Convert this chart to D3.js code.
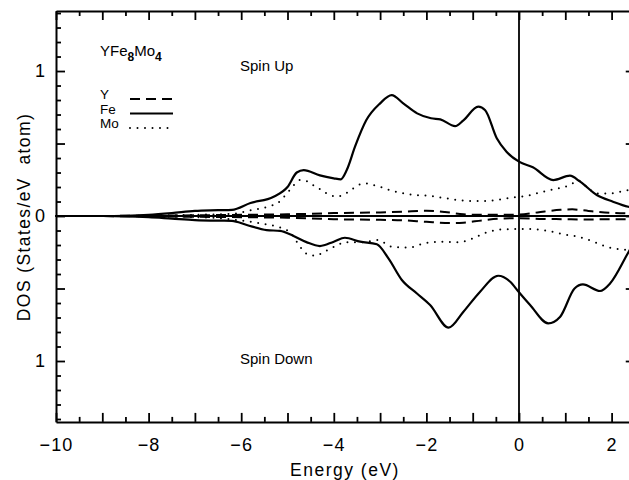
<!DOCTYPE html>
<html>
<head>
<meta charset="utf-8">
<script src="https://cdn.jsdelivr.net/npm/d3@7"></script>
<style>
  html, body { margin: 0; padding: 0; background: #fff; }
  svg text { font-family: "Liberation Sans", Arial, Helvetica, sans-serif; fill: #000; }
</style>
</head>
<body>
<div id="chart"></div>
<script>
// ---- data: [energy (eV), DOS]; spin down stored as negative
const feUp = [[-10,0],[-9,0],[-8.5,0.002],[-8,0.008],[-7.5,0.02],[-7,0.035],[-6.5,0.04],[-6.2,0.043],
  [-5.8,0.09],[-5.3,0.133],[-5.0,0.2],[-4.8,0.3],[-4.65,0.317],[-4.3,0.28],[-4.0,0.26],[-3.85,0.253],
  [-3.72,0.317],[-3.54,0.48],[-3.3,0.66],[-3.0,0.777],[-2.75,0.834],[-2.5,0.777],[-2.2,0.708],
  [-1.9,0.674],[-1.7,0.667],[-1.38,0.62],[-1.2,0.66],[-0.88,0.754],[-0.73,0.73],[-0.48,0.536],
  [-0.27,0.443],[0,0.375],[0.3,0.336],[0.74,0.248],[1.1,0.278],[1.32,0.237],[1.68,0.145],
  [2.03,0.099],[2.36,0.064],[2.5,0.055]];
const feDown = [[-10,0],[-9,0],[-8.5,-0.002],[-8,-0.008],[-7.5,-0.018],[-7,-0.028],[-6.5,-0.032],
  [-6.2,-0.033],[-5.88,-0.062],[-5.45,-0.097],[-5.16,-0.103],[-4.88,-0.136],[-4.59,-0.18],[-4.3,-0.207],
  [-4.0,-0.177],[-3.76,-0.15],[-3.43,-0.177],[-3.07,-0.195],[-2.82,-0.292],[-2.53,-0.441],[-2.21,-0.533],
  [-1.92,-0.614],[-1.52,-0.77],[-1.2,-0.66],[-0.84,-0.522],[-0.45,-0.412],[-0.19,-0.453],[0,-0.526],
  [0.24,-0.614],[0.63,-0.74],[0.89,-0.694],[1.2,-0.5],[1.38,-0.472],[1.75,-0.517],[1.97,-0.464],
  [2.33,-0.269],[2.5,-0.17]];
const moUp = [[-10,0],[-9,0],[-8,0.002],[-7,0.008],[-6.5,0.012],[-6.1,0.018],[-5.88,0.034],[-5.7,0.046],
  [-5.56,0.053],[-5.38,0.069],[-5.2,0.092],[-5.1,0.124],[-4.98,0.168],[-4.86,0.214],[-4.73,0.248],
  [-4.55,0.237],[-4.42,0.207],[-4.26,0.179],[-4.1,0.145],[-3.94,0.135],[-3.76,0.152],[-3.61,0.184],
  [-3.47,0.214],[-3.31,0.225],[-3.15,0.214],[-2.97,0.198],[-2.79,0.179],[-2.43,0.152],[-1.92,0.138],
  [-1.56,0.122],[-1.2,0.106],[-0.84,0.103],[-0.48,0.11],[-0.12,0.129],[0.2,0.14],[0.38,0.156],
  [0.74,0.184],[1.1,0.214],[1.28,0.245],[1.5,0.191],[1.68,0.156],[1.97,0.156],[2.36,0.179],[2.5,0.185]];
const moDown = [[-10,0],[-9,0],[-8,-0.002],[-7,-0.008],[-6.5,-0.014],[-6.1,-0.028],[-5.7,-0.044],
  [-5.38,-0.062],[-5.2,-0.074],[-4.91,-0.126],[-4.8,-0.177],[-4.7,-0.223],[-4.57,-0.264],[-4.39,-0.274],
  [-4.24,-0.253],[-4.07,-0.223],[-3.88,-0.195],[-3.79,-0.181],[-3.4,-0.181],[-3.04,-0.166],[-2.75,-0.212],
  [-2.39,-0.218],[-2.03,-0.188],[-1.67,-0.177],[-1.31,-0.181],[-0.99,-0.154],[-0.7,-0.113],[-0.34,-0.092],
  [-0.12,-0.09],[0.24,-0.09],[0.6,-0.101],[0.96,-0.126],[1.28,-0.143],[1.61,-0.177],[1.89,-0.212],
  [2.33,-0.234],[2.5,-0.24]];
const yUp = [[-10,0],[-8,0.002],[-7,0.005],[-6,0.008],[-5,0.012],[-4.5,0.015],[-4,0.02],[-3,0.025],
  [-2.5,0.03],[-2.0,0.036],[-1.6,0.028],[-1.2,0.012],[-0.8,0.008],[-0.4,0.008],[0,0.01],[0.4,0.025],
  [0.9,0.043],[1.15,0.046],[1.5,0.035],[2.0,0.022],[2.5,0.018]];
const yDown = [[-10,0],[-8,-0.002],[-7,-0.005],[-6,-0.008],[-5,-0.012],[-4.5,-0.016],[-4,-0.022],
  [-3,-0.026],[-2.5,-0.03],[-2,-0.04],[-1.5,-0.048],[-1.2,-0.046],[-0.8,-0.03],[-0.4,-0.018],[0,-0.015],
  [0.5,-0.02],[1,-0.022],[1.5,-0.024],[2,-0.022],[2.5,-0.022]];

const xLabelTicks = [-10, -8, -6, -4, -2, 0, 2];
const yLabelTicks = [-1, 0, 1];
const legendItems = ["Y", "Fe", "Mo"];

// ---- layout
const fullW = 629, fullH = 480;
const svg = d3.select("#chart").append("svg")
  .attr("width", fullW).attr("height", fullH);

const x = d3.scaleLinear().domain([-10, 2.5]).range([56, 634.75]);
const y = d3.scaleLinear().domain([-1.42, 1.414]).range([421.9, 11]);
const [x0, x1] = x.range();
const [yB, yT] = y.range();

const styles = {
  Y:  { dash: "10,6", cap: "butt", w: 2 },
  Fe: { dash: null, cap: "butt", w: 2.2 },
  Mo: { dash: "0,7.5", cap: "round", w: 2 }
};

// ---- curves
const line = d3.line()
  .x(d => x(d[0]))
  .y(d => y(d[1]))
  .curve(d3.curveMonotoneX);

const series = [
  { key: "Y", data: yUp }, { key: "Y", data: yDown },
  { key: "Mo", data: moUp }, { key: "Mo", data: moDown },
  { key: "Fe", data: feUp }, { key: "Fe", data: feDown }
];

const plot = svg.append("g");
series.forEach(s => {
  const st = styles[s.key];
  plot.append("path")
    .datum(s.data)
    .attr("d", line)
    .attr("fill", "none")
    .attr("stroke", "#000")
    .attr("stroke-width", st.w)
    .attr("stroke-linecap", st.cap)
    .attr("stroke-linejoin", "round")
    .attr("stroke-dasharray", st.dash);
});

// zero line and Fermi level
plot.append("line")
  .attr("x1", x0).attr("x2", x1).attr("y1", y(0)).attr("y2", y(0))
  .attr("stroke", "#000").attr("stroke-width", 2);
plot.append("line")
  .attr("x1", x(0)).attr("x2", x(0)).attr("y1", yT).attr("y2", yB)
  .attr("stroke", "#000").attr("stroke-width", 1.8);

// ---- axes (inward ticks, major + minor)
const xTicks = d3.range(-10, 2.51, 0.5);
const yTicks = d3.range(-14, 15).map(v => v / 10);
const isMajorX = v => Math.abs(v - Math.round(v)) < 1e-6;
const isMajorY = v => Math.abs(v * 2 - Math.round(v * 2)) < 1e-6;

function styleAxis(gAxis) {
  gAxis.select(".domain").attr("stroke", "#000").attr("stroke-width", 2);
  gAxis.selectAll(".tick line").attr("stroke", "#000").attr("stroke-width", 1.8);
  gAxis.selectAll(".tick text").remove();
  return gAxis;
}

const bottomG = svg.append("g").attr("transform", `translate(0,${yB})`)
  .call(d3.axisBottom(x).tickValues(xTicks).tickSizeOuter(0).tickSizeInner(0));
bottomG.selectAll(".tick line").attr("y2", d => isMajorX(d) ? -9 : -5);
styleAxis(bottomG);

const topG = svg.append("g").attr("transform", `translate(0,${yT})`)
  .call(d3.axisTop(x).tickValues(xTicks).tickSizeOuter(0).tickSizeInner(0));
topG.selectAll(".tick line").attr("y2", d => isMajorX(d) ? 9 : 5);
styleAxis(topG);

const leftG = svg.append("g").attr("transform", `translate(${x0},0)`)
  .call(d3.axisLeft(y).tickValues(yTicks).tickSizeOuter(0).tickSizeInner(0));
leftG.selectAll(".tick line").attr("x2", d => isMajorY(d) ? 9 : 5);
styleAxis(leftG);

const rightG = svg.append("g").attr("transform", `translate(${x1},0)`)
  .call(d3.axisRight(y).tickValues(yTicks).tickSizeOuter(0).tickSizeInner(0));
rightG.selectAll(".tick line").attr("x2", d => isMajorY(d) ? -9 : -5);
styleAxis(rightG);

// tick labels
const xLab = svg.append("g").attr("transform", `translate(0,${yB})`)
  .call(d3.axisBottom(x).tickValues(xLabelTicks).tickSize(0).tickPadding(16));
xLab.select(".domain").remove();
xLab.selectAll(".tick text")
  .style("font-size", "18px").style("letter-spacing", "1.2px")
  .attr("fill", "#000");

const yLab = svg.append("g").attr("transform", `translate(${x0},0)`)
  .call(d3.axisLeft(y).tickValues(yLabelTicks).tickSize(0).tickPadding(11)
    .tickFormat(d => Math.abs(d)));
yLab.select(".domain").remove();
yLab.selectAll(".tick text")
  .style("font-size", "18px")
  .attr("fill", "#000");

// axis titles
svg.append("text")
  .attr("x", 345).attr("y", 476)
  .attr("text-anchor", "middle")
  .style("font-size", "17.5px").style("letter-spacing", "1.5px")
  .text("Energy (eV)");

svg.append("text")
  .attr("transform", "translate(30,217) rotate(-90)")
  .attr("text-anchor", "middle")
  .style("font-size", "17.5px").style("letter-spacing", "1.4px")
  .style("white-space", "pre")
  .text("DOS (States/eV  atom)");

// annotations
const title = svg.append("text").attr("x", 100).attr("y", 56)
  .style("font-size", "15px");
title.append("tspan").text("YFe");
title.append("tspan").attr("dy", 5).style("font-size", "12px").style("font-weight", "bold").text("8");
title.append("tspan").attr("dy", -5).text("Mo");
title.append("tspan").attr("dy", 5).style("font-size", "12px").style("font-weight", "bold").text("4");

svg.append("text").attr("x", 240).attr("y", 71)
  .style("font-size", "15px").text("Spin Up");
svg.append("text").attr("x", 240).attr("y", 364)
  .style("font-size", "15px").text("Spin Down");

// legend
const leg = svg.append("g");
legendItems.forEach((k, i) => {
  const yy = 99 + i * 14.5;
  const st = styles[k];
  leg.append("text").attr("x", 100).attr("y", yy)
    .style("font-size", "13.5px").text(k);
  leg.append("line")
    .attr("x1", 130).attr("x2", 173).attr("y1", yy).attr("y2", yy)
    .attr("stroke", "#000").attr("stroke-width", st.w)
    .attr("stroke-linecap", st.cap)
    .attr("stroke-dasharray", st.dash);
});
</script>
</body>
</html>
